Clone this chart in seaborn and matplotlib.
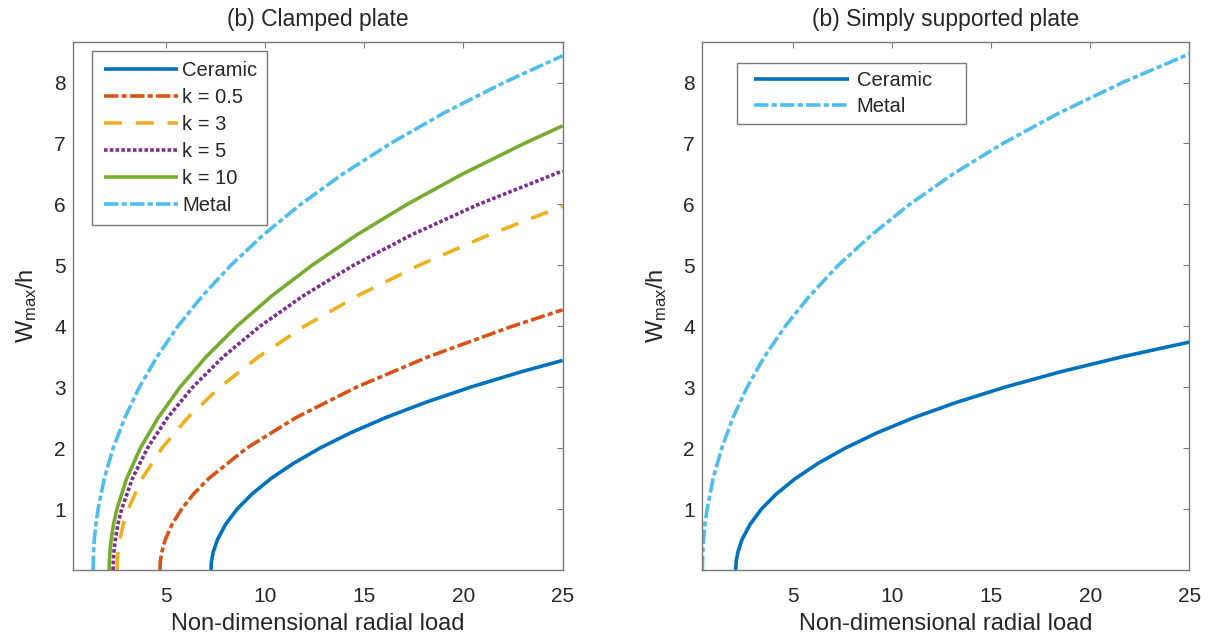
import numpy as np
import pandas as pd
import matplotlib
matplotlib.use("Agg")
import matplotlib.pyplot as plt
from matplotlib.lines import Line2D
from matplotlib.legend_handler import HandlerLine2D
import seaborn as sns

# ---------------- data ----------------
# Left panel: (b) Clamped plate  -- W_max/h values and corresponding loads
W_ceramic_c = [0, 0.15, 0.3, 0.5, 0.75, 1.0, 1.25, 1.5, 1.75, 2.0, 2.25, 2.5, 2.75, 3.0, 3.25, 3.44]
P_ceramic_c = [7.27, 7.30, 7.39, 7.60, 8.01, 8.59, 9.35, 10.29, 11.43, 12.76, 14.30, 16.07, 18.08, 20.35, 22.88, 25.0]

W_k05 = [0, 0.15, 0.3, 0.5, 0.75, 1.0, 1.25, 1.5, 2.0, 2.5, 3.0, 3.5, 4.0, 4.27]
P_k05 = [4.70, 4.72, 4.80, 4.97, 5.31, 5.79, 6.40, 7.15, 9.07, 11.55, 14.60, 18.23, 22.46, 25.0]

W_k3 = [0, 0.15, 0.3, 0.5, 0.75, 1.0, 1.5, 2.0, 2.5, 3.0, 3.5, 4.0, 4.5, 5.0, 5.5, 5.97]
P_k3 = [2.54, 2.55, 2.59, 2.68, 2.85, 3.10, 3.80, 4.80, 6.10, 7.72, 9.67, 11.98, 14.66, 17.75, 21.28, 25.0]

W_k5 = [0, 0.15, 0.3, 0.5, 0.75, 1.0, 1.5, 2.0, 2.5, 3.0, 3.5, 4.0, 4.5, 5.0, 5.5, 6.0, 6.55]
P_k5 = [2.34, 2.35, 2.38, 2.45, 2.58, 2.77, 3.31, 4.07, 5.08, 6.35, 7.89, 9.74, 11.92, 14.45, 17.38, 20.75, 25.0]

W_k10 = [0, 0.15, 0.3, 0.5, 0.75, 1.0, 1.5, 2.0, 2.5, 3.0, 3.5, 4.0, 4.5, 5.0, 5.5, 6.0, 6.5, 7.0, 7.29]
P_k10 = [2.14, 2.15, 2.18, 2.24, 2.36, 2.53, 3.02, 3.71, 4.61, 5.71, 7.03, 8.57, 10.34, 12.36, 14.62, 17.15, 19.96, 23.06, 25.0]

W_metal_c = [0, 0.15, 0.3, 0.5, 0.75, 1.0, 1.5, 2.0, 2.5, 3.0, 3.5, 4.0, 4.5, 5.0, 5.5, 6.0, 6.5, 7.0, 7.5, 8.0, 8.44]
P_metal_c = [1.33, 1.34, 1.35, 1.39, 1.47, 1.58, 1.89, 2.34, 2.93, 3.66, 4.55, 5.60, 6.84, 8.27, 9.91, 11.79, 13.92, 16.32, 19.01, 22.04, 25.0]

# Right panel: (b) Simply supported plate
W_ceramic_s = [0, 0.15, 0.3, 0.5, 0.75, 1.0, 1.25, 1.5, 1.75, 2.0, 2.25, 2.5, 2.75, 3.0, 3.25, 3.5, 3.74]
P_ceramic_s = [2.09, 2.12, 2.21, 2.41, 2.82, 3.39, 4.15, 5.10, 6.25, 7.62, 9.22, 11.08, 13.23, 15.68, 18.46, 21.61, 25.0]

W_metal_s = [0, 0.15, 0.3, 0.5, 0.75, 1.0, 1.5, 2.0, 2.5, 3.0, 3.5, 4.0, 4.5, 5.0, 5.5, 6.0, 6.5, 7.0, 7.5, 8.0, 8.47]
P_metal_s = [0.41, 0.42, 0.43, 0.47, 0.54, 0.65, 0.95, 1.39, 1.95, 2.67, 3.54, 4.59, 5.83, 7.27, 8.95, 10.87, 13.07, 15.58, 18.42, 21.62, 25.0]

labels_left = ["Ceramic", "k = 0.5", "k = 3", "k = 5", "k = 10", "Metal"]
labels_right = ["Ceramic", "Metal"]
titles = ["(b) Clamped plate", "(b) Simply supported plate"]
x_ticks = [5, 10, 15, 20, 25]
y_ticks = [1, 2, 3, 4, 5, 6, 7, 8]

# ---------------- style ----------------
sns.set_theme(style="white")
plt.rcParams["font.family"] = ["Liberation Sans", "DejaVu Sans"]
plt.rcParams["mathtext.default"] = "regular"

colors = {
    "Ceramic": "#0072BD",
    "k = 0.5": "#D95319",
    "k = 3": "#EDB120",
    "k = 5": "#7E2F8E",
    "k = 10": "#77AC30",
    "Metal": "#4DBEEE",
}
dash_styles = {
    "Ceramic": None,
    "k = 0.5": (4.0, 0.9, 1.4, 0.9),
    "k = 3": (5.0, 3.8),
    "k = 5": (1.0, 0.6),
    "k = 10": None,
    "Metal": (4.0, 0.9, 1.4, 0.9),
}

left_data = [(P_ceramic_c, W_ceramic_c), (P_k05, W_k05), (P_k3, W_k3),
             (P_k5, W_k5), (P_k10, W_k10), (P_metal_c, W_metal_c)]
right_data = [(P_ceramic_s, W_ceramic_s), (P_metal_s, W_metal_s)]

fig = plt.figure(figsize=(12.11, 6.43), dpi=100)
ax1 = fig.add_axes([0.0605, 0.1135, 0.4041, 0.8216])
ax2 = fig.add_axes([0.5800, 0.1135, 0.4021, 0.8216])

LW = 2.6
TEXT = "#262626"
SPINE = "#7a7a7a"


def draw(ax, data, labels):
    for (p, w), lab in zip(data, labels):
        df = pd.DataFrame({"P": p, "W": w})
        sns.lineplot(data=df, x="P", y="W", ax=ax, color=colors[lab],
                     linewidth=LW, sort=False, estimator=None, label=lab)
        line = ax.lines[-1]
        if dash_styles[lab] is not None:
            line.set_dashes(dash_styles[lab])
        line.set_solid_capstyle("butt")
        line.set_dash_capstyle("butt")


draw(ax1, left_data, labels_left)
draw(ax2, right_data, labels_right)

for ax, title, xmin in zip([ax1, ax2], titles, [0.33, 0.41]):
    ax.set_xlim(xmin, 25)
    ax.set_ylim(0, 8.67)
    ax.set_xticks(x_ticks)
    ax.set_yticks(y_ticks)
    ax.tick_params(direction="in", length=4.5, width=0.8, color=SPINE,
                   top=True, right=True, labelsize=15, labelcolor=TEXT)
    ax.tick_params(axis="x", pad=12.0)
    ax.tick_params(axis="y", pad=5.5)
    for s in ax.spines.values():
        s.set_color(SPINE)
        s.set_linewidth(1.0)
    ax.set_title(title, fontsize=16.5, color=TEXT, pad=11)
    ax.set_xlabel("Non-dimensional radial load", fontsize=17, color=TEXT, labelpad=5)
    ax.set_ylabel("W$_{max}$/h", fontsize=17, color=TEXT, labelpad=10.5)

leg1 = ax1.legend(loc="upper left", bbox_to_anchor=(0.0376, 0.983), fontsize=14.5,
                  handlelength=3.8, handletextpad=0.2, labelspacing=0.4,
                  borderpad=0.5, frameon=True, fancybox=False, borderaxespad=0,
                  handler_map={Line2D: HandlerLine2D(xpad=0.1)})
leg2 = ax2.legend(loc="upper left", bbox_to_anchor=(0.0706, 0.960, 0.470, 0),
                  mode="expand", fontsize=14.5,
                  handlelength=5.15, handletextpad=0.4, labelspacing=0.35,
                  borderpad=0.4, frameon=True, fancybox=False, borderaxespad=0,
                  handler_map={Line2D: HandlerLine2D(xpad=0.45)})
for leg in (leg1, leg2):
    fr = leg.get_frame()
    fr.set_edgecolor(SPINE)
    fr.set_linewidth(1.0)
    fr.set_alpha(1)
    for t in leg.get_texts():
        t.set_color(TEXT)

fig.savefig("out.png", dpi=100, facecolor="white")
